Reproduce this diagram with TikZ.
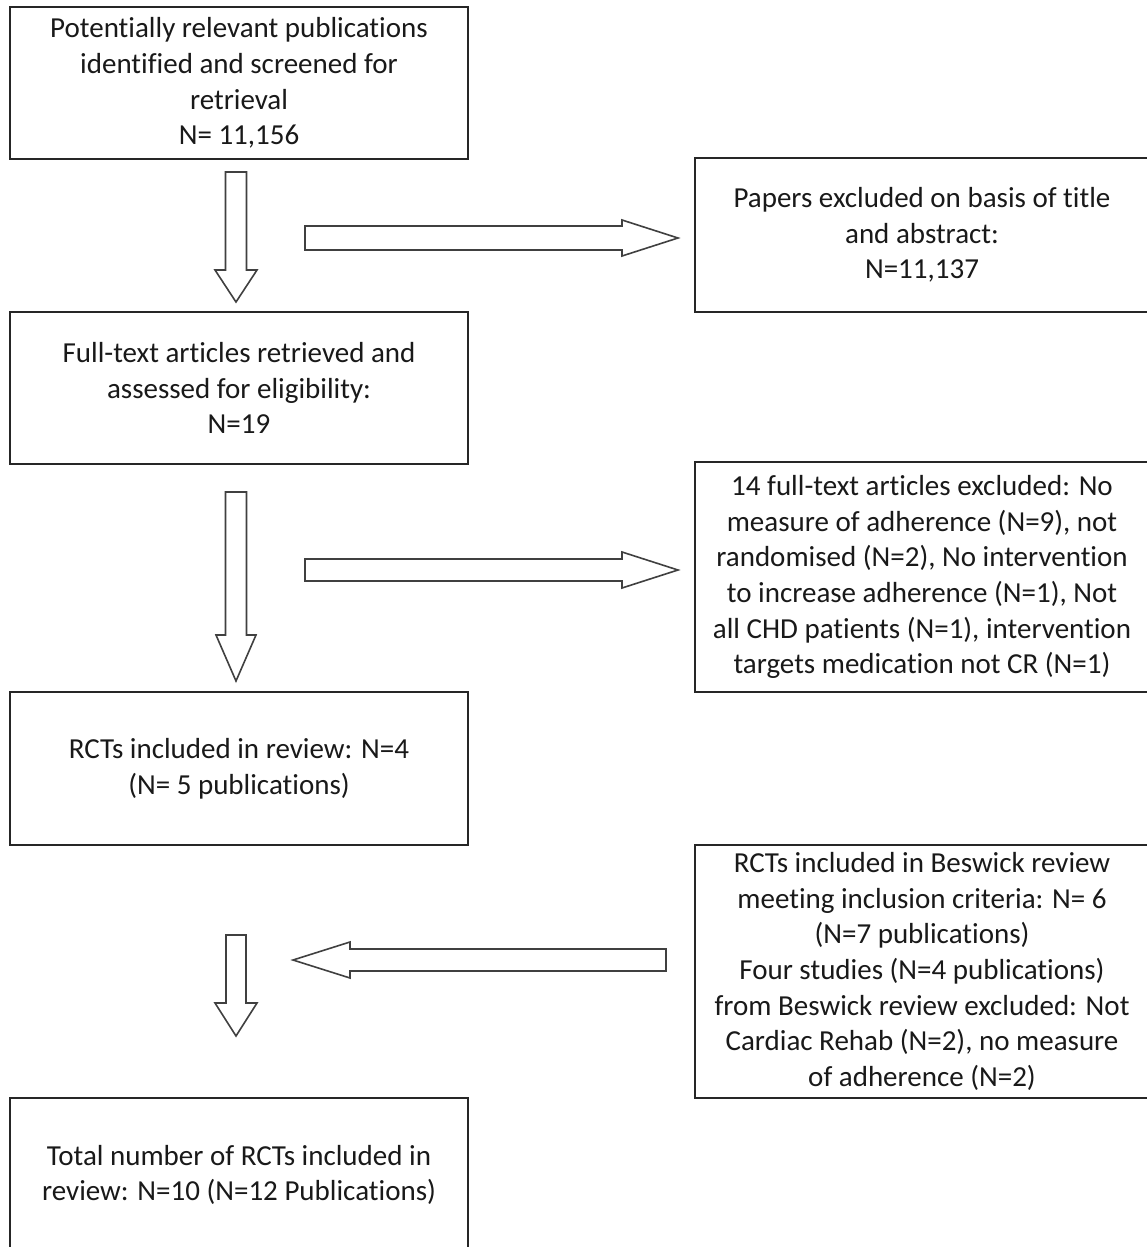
\documentclass[tikz,border=0pt]{standalone}
\usepackage{fontspec}
\setmainfont{Carlito}[Ligatures={NoCommon}]
\begin{document}
\begin{tikzpicture}[x=1pt,y=1pt,
  box/.style={draw=black!85, line width=2pt, align=center, inner sep=0pt,
    font=\fontsize{29}{35.7}\selectfont, text=black!90},
  barrowstyle/.style={draw=black!75, line width=1.6pt, fill=white, line join=miter}]
\useasboundingbox (0,0) rectangle (1147,-1247);
\fill[white] (0,0) rectangle (1147,-1247);
\newcommand{\barrow}[7]{% start, rotation, length, headlength, halfshaft, halfhead, name
  \draw[barrowstyle, shift={(#1)}, rotate=#2] (0,-#5) -- (#3-#4,-#5) -- (#3-#4,-#6) -- (#3,0) -- (#3-#4,#6) -- (#3-#4,#5) -- (0,#5) -- cycle;
  \coordinate (#7) at (#1);}

\node[box, minimum width=458, minimum height=152] (b1) at (239,-83)
  {Potentially relevant publications\\identified and screened for\\retrieval\\N= 11,156};
\node[box, minimum width=454, minimum height=154] (b2) at (922,-235)
  {Papers excluded on basis of title\\and abstract:\\N=11,137};
\node[box, minimum width=458, minimum height=152] (b3) at (239,-388)
  {Full-text articles retrieved and\\assessed for eligibility:\\N=19};
\node[box, minimum width=454, minimum height=230] (b4) at (922,-577)
  {14 full-text articles excluded: No\\measure of adherence (N=9), not\\randomised (N=2), No intervention\\to increase adherence (N=1), Not\\all CHD patients (N=1), intervention\\targets medication not CR (N=1)};
\node[box, minimum width=458, minimum height=153] (b5) at (239,-768.5)
  {RCTs included in review: N=4\\(N= 5 publications)};
\node[box, minimum width=454, minimum height=253] (b6) at (922,-971.5)
  {RCTs included in Beswick review\\meeting inclusion criteria: N= 6\\(N=7 publications)\\Four studies (N=4 publications)\\from Beswick review excluded: Not\\Cardiac Rehab (N=2), no measure\\of adherence (N=2)};
\node[box, minimum width=458, minimum height=154] (b7) at (239,-1175)
  {Total number of RCTs included in\\review: N=10 (N=12 Publications)};

% block arrows between the boxes
\barrow{236,-172}{-90}{130}{32}{10.5}{21}{d1}
\barrow{305,-238}{0}{373}{56}{12}{18}{r1}
\barrow{236,-492}{-90}{189}{46}{10.5}{20}{d2}
\barrow{305,-570}{0}{373}{56}{11}{18}{r2}
\barrow{236,-935}{-90}{101}{33}{10}{21}{d3}
\barrow{666,-960}{180}{373}{57}{11}{18}{l1}
\end{tikzpicture}
\end{document}
